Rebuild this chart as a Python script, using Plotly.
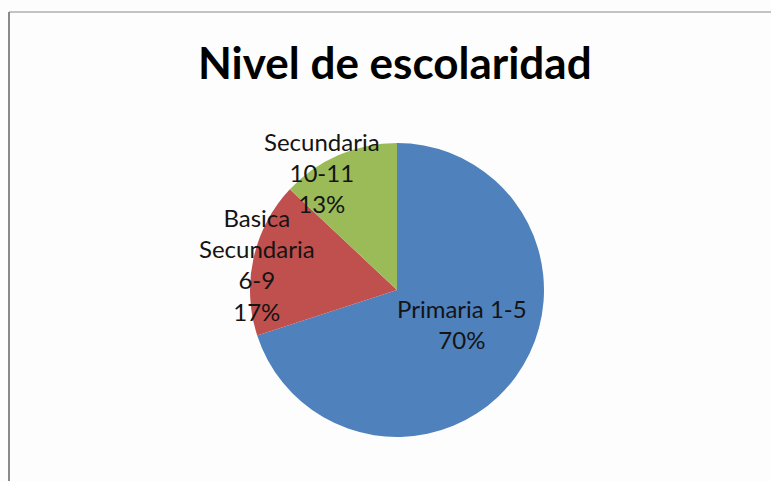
import plotly.graph_objects as go

labels = ["Primaria 1-5", "Basica<br>Secundaria<br>6-9", "Secundaria<br>10-11"]
values = [70, 17, 13]
colors = ["#4F81BD", "#C0504D", "#9BBB59"]
title_text = "Nivel de escolaridad"

W, H = 771, 481
cx, cy, r = 397, 290, 147

fig = go.Figure(go.Pie(
    labels=labels, values=values, sort=False, direction="clockwise", rotation=0,
    marker=dict(colors=colors, line=dict(width=0)),
    textinfo="none", hoverinfo="label+percent", showlegend=False,
    domain=dict(x=[(cx - r) / W, (cx + r) / W], y=[1 - (cy + r) / H, 1 - (cy - r) / H]),
))

font = dict(family="Lato, Liberation Sans, sans-serif", size=24, color="#141414")
# label anchor positions (pixel), text from data
label_pos = [(462, 324), (257, 264), (322, 172)]
for lab, v, (x, y) in zip(labels, values, label_pos):
    fig.add_annotation(x=x / W, y=1 - y / H, xref="paper", yref="paper",
                       text=f"{lab}<br>{v}%", showarrow=False, font=font,
                       xanchor="center", yanchor="middle")

fig.add_annotation(x=395 / W, y=1 - 62 / H, xref="paper", yref="paper",
                   text=f"<b>{title_text}</b>", showarrow=False,
                   font=dict(family="Lato, Liberation Sans, sans-serif", size=44, color="#000000"),
                   xanchor="center", yanchor="middle")

fig.add_shape(type="line", xref="paper", yref="paper", x0=9 / W, x1=9 / W, y0=0, y1=1 - 12 / H,
              line=dict(color="#8a8a8a", width=2))
fig.add_shape(type="line", xref="paper", yref="paper", x0=9 / W, x1=1, y0=1 - 12 / H, y1=1 - 12 / H,
              line=dict(color="#8a8a8a", width=1))

fig.update_layout(width=W, height=H, margin=dict(l=0, r=0, t=0, b=0),
                  paper_bgcolor="#fdfdfd", plot_bgcolor="#fdfdfd")
fig.write_html("out.html", config={"displayModeBar": False},
               post_script="document.body.style.margin='0';document.body.style.overflow='hidden';")
